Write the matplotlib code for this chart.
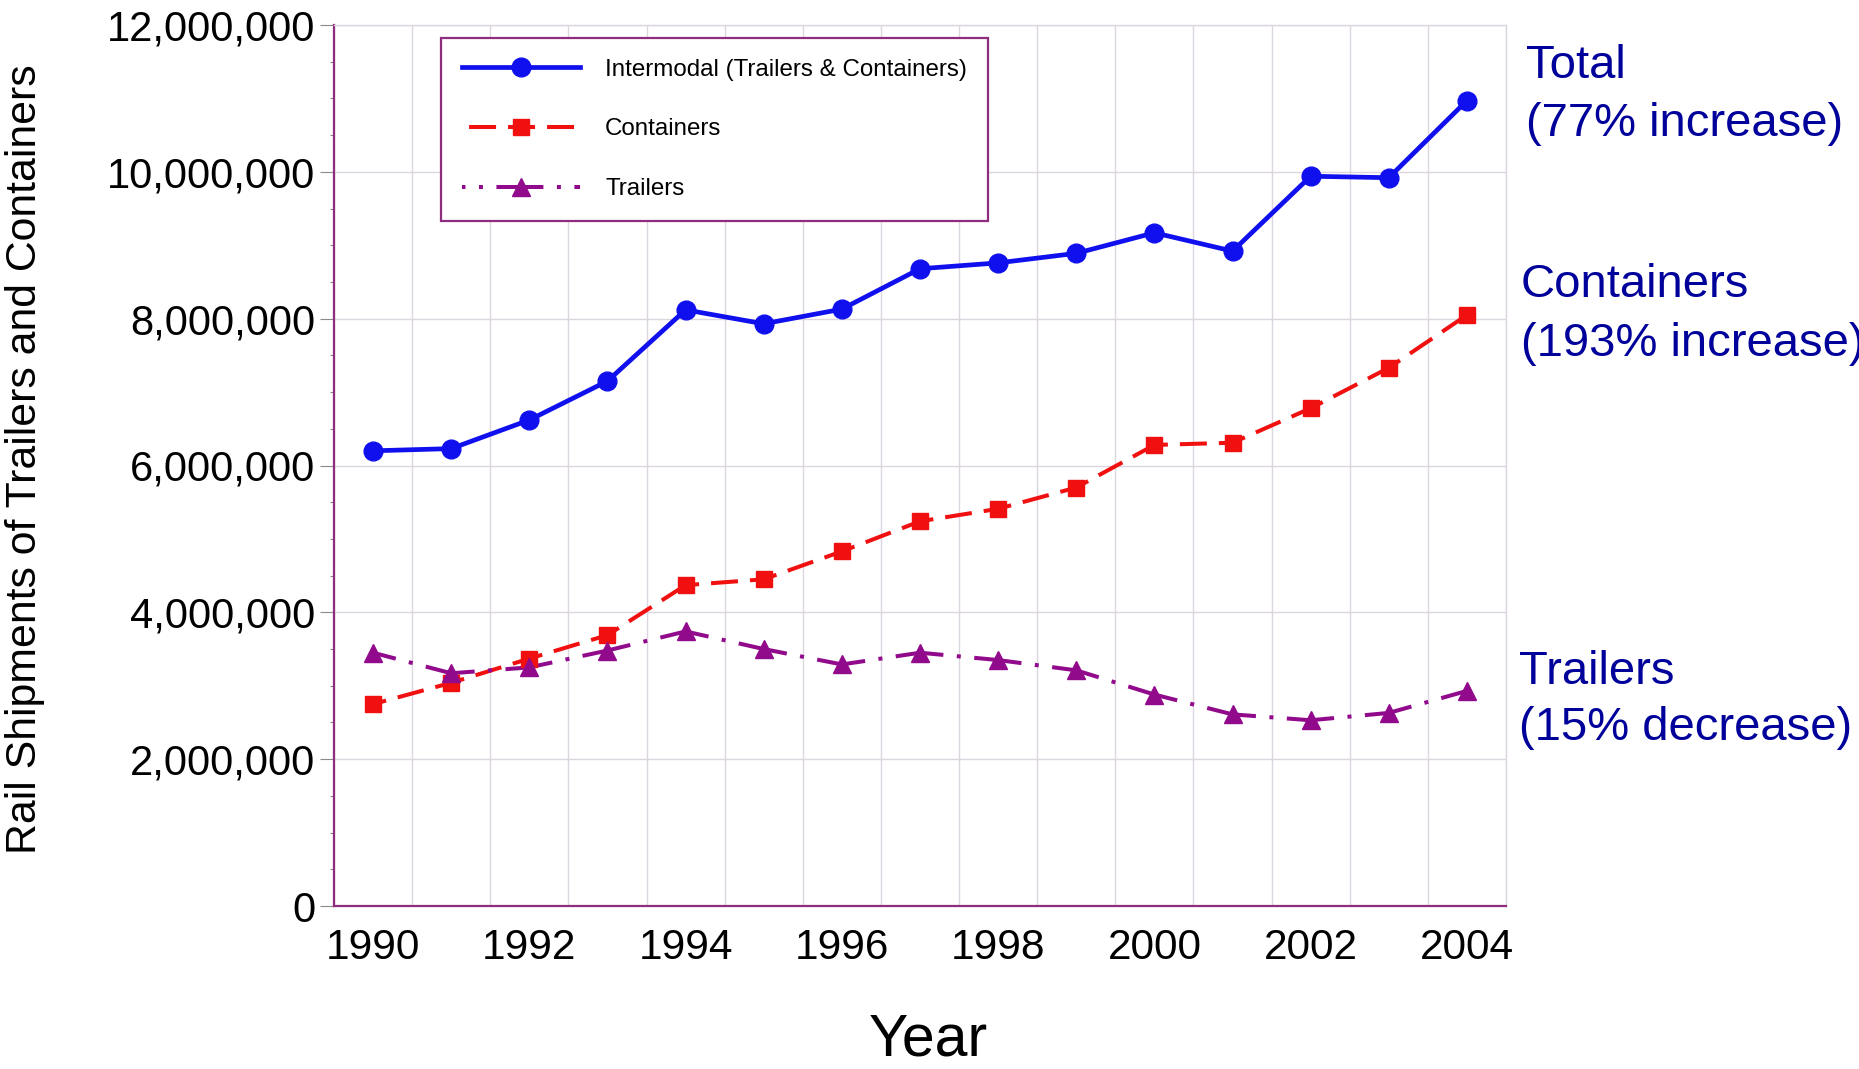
import matplotlib
matplotlib.use("Agg")
import matplotlib.pyplot as plt
from matplotlib.lines import Line2D
from matplotlib.ticker import MultipleLocator, FuncFormatter

plt.rcParams['font.family'] = ['Liberation Sans', 'DejaVu Sans']

# Rail intermodal shipments, 1990-2004
years = [1990, 1991, 1992, 1993, 1994, 1995, 1996, 1997, 1998, 1999,
         2000, 2001, 2002, 2003, 2004]
intermodal = [6.20e6, 6.23e6, 6.62e6, 7.15e6, 8.12e6, 7.93e6, 8.13e6, 8.68e6,
              8.76e6, 8.89e6, 9.17e6, 8.92e6, 9.94e6, 9.92e6, 10.97e6]
containers = [2.75e6, 3.04e6, 3.37e6, 3.69e6, 4.37e6, 4.45e6, 4.83e6, 5.24e6,
              5.41e6, 5.70e6, 6.28e6, 6.31e6, 6.78e6, 7.33e6, 8.05e6]
trailers = [3.45e6, 3.17e6, 3.25e6, 3.48e6, 3.74e6, 3.50e6, 3.29e6, 3.45e6,
            3.35e6, 3.21e6, 2.88e6, 2.61e6, 2.53e6, 2.63e6, 2.93e6]

series_labels = ["Intermodal (Trailers & Containers)", "Containers", "Trailers"]
side_notes = [("Total", "(77% increase)"),
              ("Containers", "(193% increase)"),
              ("Trailers", "(15% decrease)")]
x_tick_years = [1990, 1992, 1994, 1996, 1998, 2000, 2002, 2004]

BLUE = "#1010EE"
RED = "#F01010"
PURPLE = "#920A8C"
SPINE = "#8E2C7E"
GRID = "#DCD6DE"
NOTE = "#00009A"

W, H = 1859, 1069
fig = plt.figure(figsize=(W / 100, H / 100), dpi=100)
L, R, T, B = 334, 1506, 25, 906
ax = fig.add_axes([L / W, 1 - B / H, (R - L) / W, (B - T) / H])

ax.set_xlim(1989.5, 2004.5)
ax.set_ylim(0, 12_000_000)

# grid: half-year verticals, 2M horizontals
ax.xaxis.set_major_locator(plt.FixedLocator(x_tick_years))
ax.xaxis.set_minor_locator(MultipleLocator(1, offset=0.5))
ax.yaxis.set_major_locator(MultipleLocator(2_000_000))
ax.yaxis.set_minor_locator(MultipleLocator(500_000))
ax.yaxis.set_major_formatter(FuncFormatter(lambda v, p: f"{int(v):,}"))
ax.grid(True, which='minor', axis='x', color=GRID, lw=1.0)
ax.grid(True, which='major', axis='y', color=GRID, lw=1.0)
ax.set_axisbelow(True)

ax.tick_params(axis='x', which='both', length=0, labelsize=30.5, pad=16)
ax.tick_params(axis='y', which='major', length=10, width=0.8, color="#8A8A8A",
               labelsize=30, pad=3.5)
ax.tick_params(axis='y', which='minor', length=3, width=0.8, color="#8A8A8A")

for side in ('left', 'bottom'):
    ax.spines[side].set_color(SPINE)
    ax.spines[side].set_linewidth(1.6)
for side in ('top', 'right'):
    ax.spines[side].set_color(GRID)
    ax.spines[side].set_linewidth(1.0)

# line styles (dash units scale with linewidth)
LW_SOLID = 3.4
LW_DASH = 2.9
red_dash = (3.35, (6.70, 2.98))
purple_dash = (5.83, (11.66, 3.35, 0.99, 3.35))

# total: solid line
ax.plot(years, intermodal, color=BLUE, lw=LW_SOLID, zorder=3)
ax.plot(years, intermodal, ls='none', marker='o', ms=13.5, color=BLUE, zorder=4)

# containers and trailers: each yearly segment starts mid-dash so dashes
# sit centred on the markers
for i in range(len(years) - 1):
    ax.plot(years[i:i + 2], containers[i:i + 2], color=RED, lw=LW_DASH,
            linestyle=red_dash, zorder=3)
    ax.plot(years[i:i + 2], trailers[i:i + 2], color=PURPLE, lw=LW_DASH,
            linestyle=purple_dash, zorder=3)
ax.plot(years, containers, ls='none', marker='s', ms=12, color=RED, zorder=4)
ax.plot(years, trailers, ls='none', marker='^', ms=12.5, color=PURPLE, zorder=4)

handles = [
    Line2D([], [], color=BLUE, lw=LW_SOLID, marker='o', ms=13.5),
    Line2D([], [], color=RED, lw=LW_DASH, linestyle=(7.92, (6.70, 2.98)),
           marker='s', ms=12),
    Line2D([], [], color=PURPLE, lw=LW_DASH,
           linestyle=(10.8, (11.66, 3.35, 0.99, 3.35)), marker='^', ms=12.5),
]
leg = ax.legend(handles, series_labels, loc='upper left',
                bbox_to_anchor=(441 / W, 1 - 38 / H),
                bbox_transform=fig.transFigure, borderaxespad=0,
                fontsize=17.4, numpoints=1, handlelength=4.9,
                handletextpad=1.03, labelspacing=1.56, borderpad=0.86,
                fancybox=False, framealpha=1, edgecolor=SPINE)
leg.get_frame().set_linewidth(1.6)
leg.set_zorder(5)

ax.set_ylabel("Rail Shipments of Trailers and Containers", fontsize=30.8)
ax.yaxis.label.set_va('center')
ax.yaxis.set_label_coords((25 - L) / (R - L), 0.507)
ax.set_xlabel("Year", fontsize=42.5)
ax.xaxis.label.set_va('center')
ax.xaxis.set_label_coords((928 - L) / (R - L), -(1040 - B) / (B - T))

# growth notes on the right
note_pos = [(1526, 65.5, 124), (1521, 285.5, 344), (1519, 671.5, 728.5)]
for (head, sub), (xp, y1, y2) in zip(side_notes, note_pos):
    fig.text(xp / W, 1 - y1 / H, head, color=NOTE, fontsize=34,
             ha='left', va='center')
    fig.text(xp / W, 1 - y2 / H, sub, color=NOTE, fontsize=34,
             ha='left', va='center')

fig.savefig("out.png", dpi=100, facecolor='white')
